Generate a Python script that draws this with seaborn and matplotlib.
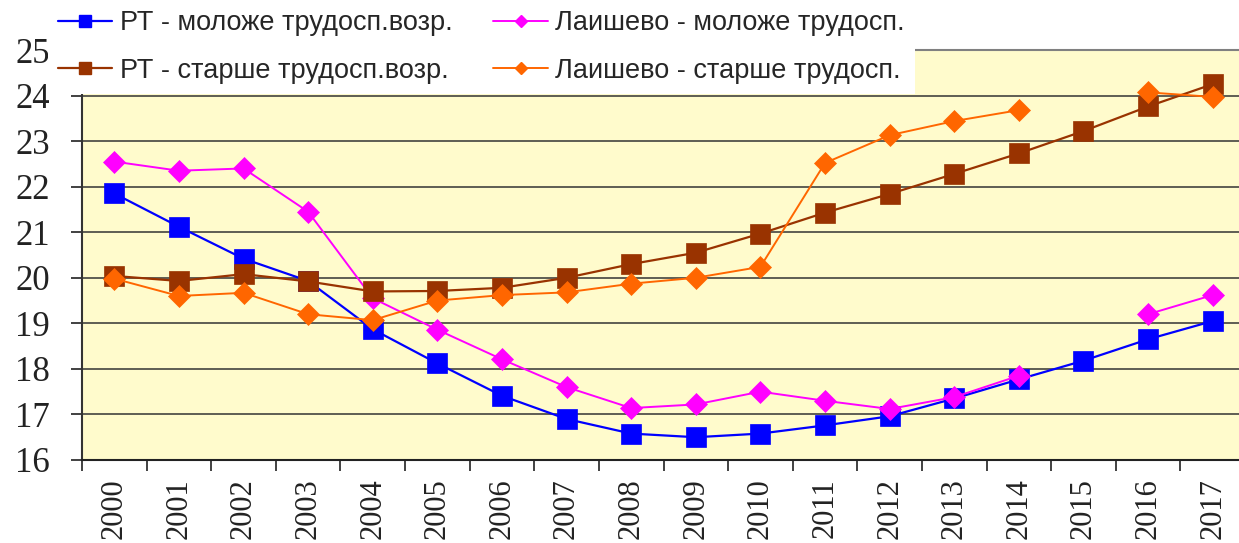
import numpy as np
import matplotlib.pyplot as plt
from matplotlib.lines import Line2D
from matplotlib.ticker import FixedLocator
import seaborn as sns

years = list(range(2000, 2018))
rt_young = [21.85, 21.12, 20.42, 19.93, 18.87, 18.12, 17.41, 16.9, 16.58, 16.5,
            16.58, 16.76, 16.96, 17.35, 17.77, 18.18, 18.65, 19.05]
laish_young = [22.55, 22.35, 22.4, 21.45, 19.55, 18.86, 18.21, 17.6, 17.14, 17.22,
               17.5, 17.3, 17.12, 17.38, 17.85, np.nan, 19.2, 19.62]
rt_old = [20.04, 19.93, 20.08, 19.92, 19.7, 19.71, 19.78, 20.0, 20.3, 20.55,
          20.97, 21.43, 21.84, 22.28, 22.73, 23.22, 23.76, 24.25]
laish_old = [19.98, 19.6, 19.67, 19.2, 19.07, 19.5, 19.62, 19.68, 19.87, 20.0,
             20.24, 22.52, 23.13, 23.44, 23.68, np.nan, 24.07, 23.97]

labels = ['РТ - моложе трудосп.возр.', 'РТ - старше трудосп.возр.',
          'Лаишево - моложе трудосп.', 'Лаишево - старше трудосп.']

blue = '#0000FF'
brown = '#993300'
magenta = '#FF00FF'
orange = '#FF6600'

sns.set_style('ticks')
plt.rcParams['font.family'] = ['Liberation Sans', 'DejaVu Sans']

fig = plt.figure(figsize=(12.39, 5.43), dpi=100)
ax = fig.add_axes([82 / 1239, 1 - 460 / 543, (1245 - 82) / 1239, 410 / 543])
ax.set_facecolor('#FFFBCC')

# draw order: blue, magenta, brown, orange (orange ends up on top)
plot_order = [
    (rt_young, blue, 's', 14, 1.6),
    (laish_young, magenta, 'D', 11, 1.4),
    (rt_old, brown, 's', 14, 1.6),
    (laish_old, orange, 'D', 11, 1.4),
]
for vals, col, mk, ms, lw in plot_order:
    arr = np.array(vals, dtype=float)
    seg = np.cumsum(np.isnan(arr))  # break line where a year is missing
    sns.lineplot(x=years, y=arr, units=seg, estimator=None, ax=ax,
                 color=col, marker=mk, markersize=ms, markeredgecolor=col,
                 markeredgewidth=0.5, linewidth=lw)

ax.set_xlim(1999.5, 2017.5)
ax.set_ylim(16, 25)
ax.set_yticks(range(16, 26))
ax.set_xticks(years)
ax.set_xticklabels([str(y) for y in years], rotation=90)
ax.xaxis.set_minor_locator(FixedLocator([y + 0.5 for y in range(1999, 2018)]))
ax.tick_params(axis='x', which='major', length=0, pad=13)
ax.tick_params(axis='x', which='minor', length=8, width=1.3, color='#333333')
ax.tick_params(axis='y', length=8, width=1.3, color='#333333', pad=15)
for t in ax.get_xticklabels() + ax.get_yticklabels():
    t.set_fontfamily('Liberation Serif')
    t.set_color('#222222')
for t in ax.get_xticklabels():
    t.set_fontsize(22)
for t in ax.get_yticklabels():
    t.set_fontsize(25)

for yv in range(17, 25):
    ax.axhline(yv, color='#333333', lw=1.1, zorder=0.5)
ax.spines['left'].set_color('#333333')
ax.spines['left'].set_linewidth(1.5)
ax.spines['bottom'].set_color('#222222')
ax.spines['bottom'].set_linewidth(1.5)
ax.spines['top'].set_color('#808080')
ax.spines['top'].set_linewidth(1.5)
ax.spines['right'].set_visible(False)
ax.set_xlabel('')
ax.set_ylabel('')

handles = [
    Line2D([], [], color=blue, marker='s', markersize=9, lw=1.6),
    Line2D([], [], color=brown, marker='s', markersize=9, lw=1.6),
    Line2D([], [], color=magenta, marker='D', markersize=6, lw=1.4),
    Line2D([], [], color=orange, marker='D', markersize=6, lw=1.4),
]
fig.legend(handles, labels, loc='upper left', bbox_to_anchor=(48 / 1239, 1.0),
           ncol=2, frameon=True, facecolor='white', edgecolor='none',
           framealpha=1, fancybox=False, fontsize=19.5, handlelength=2.0,
           handletextpad=0.28, columnspacing=1.5, labelspacing=0.8,
           borderpad=0.38, borderaxespad=0)

fig.savefig('out.png', dpi=100)
